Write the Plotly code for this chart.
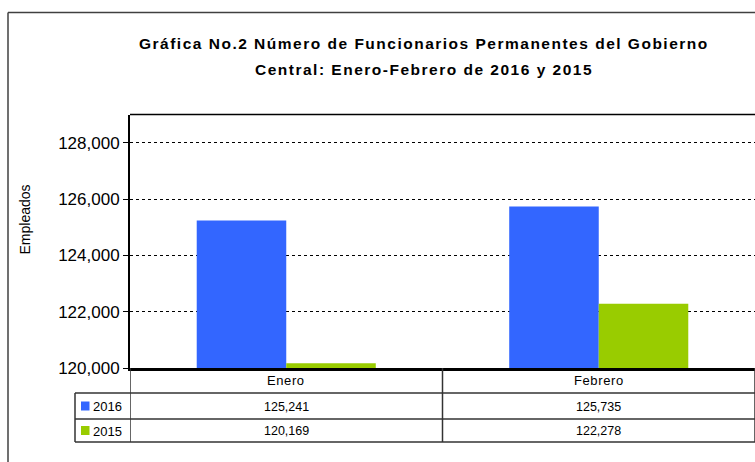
import plotly.graph_objects as go

# ---- data ----
categories = ["Enero", "Febrero"]
series_names = ["2016", "2015"]
values_2016 = [125241, 125735]
values_2015 = [120169, 122278]
series_colors = ["#3366FF", "#99CC00"]
title_lines = ["Gráfica No.2 Número de Funcionarios Permanentes del Gobierno",
               "Central: Enero-Febrero de 2016 y 2015"]
y_title = "Empleados"

W, H = 755, 462
FONT = "Liberation Sans, Arial, sans-serif"


def px(x):
    return x / W


def py(y):
    return 1 - y / H


def spaced(t, s):
    return f'<span style="letter-spacing:{s}px">{t}</span>'


plot_left, plot_top, plot_bottom = 130, 114.5, 368

fig = go.Figure()
for name, vals, col in zip(series_names, [values_2016, values_2015], series_colors):
    fig.add_trace(go.Bar(x=categories, y=vals, name=name, marker=dict(color=col, line=dict(width=0)),
                         showlegend=False, hoverinfo="skip"))

fig.update_layout(
    width=W, height=H, autosize=False, margin=dict(l=0, r=0, t=0, b=0, pad=0, autoexpand=False),
    paper_bgcolor="white", plot_bgcolor="white",
    barmode="group", bargap=0.427, bargroupgap=0,
    font=dict(family=FONT, color="black"),
    xaxis=dict(domain=[px(plot_left), 1], range=[-0.5, 1.5], showticklabels=False, automargin=False,
               showline=True, linecolor="black", linewidth=2.5, ticks="", showgrid=False,
               zeroline=False, fixedrange=True),
    yaxis=dict(domain=[py(plot_bottom), py(plot_top)], range=[120000, 129000], automargin=False,
               tickmode="linear", tick0=120000, dtick=2000, tickformat=",d",
               showline=True, linecolor="black", linewidth=2,
               ticks="outside", ticklen=5, tickcolor="black", tickwidth=1,
               tickfont=dict(size=17, family=FONT, color="black"),
               showgrid=True, gridcolor="black", griddash="dot", gridwidth=1,
               zeroline=False, fixedrange=True),
)

shapes = []
# outer chart frame (left and top edges visible)
shapes.append(dict(type="line", xref="paper", yref="paper", x0=px(8), x1=1.1, y0=py(12.5), y1=py(12.5),
                   line=dict(color="#404040", width=1.5)))
shapes.append(dict(type="line", xref="paper", yref="paper", x0=px(8), x1=px(8), y0=py(12.5), y1=-0.1,
                   line=dict(color="#404040", width=1.5)))
# plot area top border
shapes.append(dict(type="line", xref="paper", yref="paper", x0=px(plot_left), x1=1.1,
                   y0=py(plot_top), y1=py(plot_top), line=dict(color="black", width=1.5)))

# data table
row_edges = [368, 393, 419, 442]
legend_left = 75
tcol = "#333333"
for yy in row_edges[1:]:
    shapes.append(dict(type="line", xref="paper", yref="paper", x0=px(legend_left), x1=1.1,
                       y0=py(yy), y1=py(yy), line=dict(color=tcol, width=1.5)))
shapes.append(dict(type="line", xref="paper", yref="paper", x0=px(legend_left), x1=px(legend_left),
                   y0=py(row_edges[1]), y1=py(row_edges[-1]), line=dict(color=tcol, width=1.5)))
for i in range(len(categories) + 1):
    shapes.append(dict(type="line", xref="x", yref="paper", x0=i - 0.5, x1=i - 0.5,
                       y0=py(row_edges[0]), y1=py(row_edges[-1]), line=dict(color=tcol, width=1.5)))

annotations = []
# title
for k, (line, yy) in enumerate(zip(title_lines, [43, 69])):
    annotations.append(dict(text="<b>" + spaced(line, 1.5) + "</b>", xref="paper", yref="paper",
                            x=px(424), y=py(yy), xanchor="center", yanchor="middle", showarrow=False,
                            font=dict(size=15.5, family=FONT, color="black")))
# y axis title
annotations.append(dict(text=y_title, xref="paper", yref="paper", x=px(24.5), y=py(220), textangle=-90,
                        xanchor="center", yanchor="middle", showarrow=False,
                        font=dict(size=14, family=FONT, color="black")))
# category header row
for i, c in enumerate(categories):
    annotations.append(dict(text=spaced(c, 0.6), xref="x", yref="paper", x=i, y=py(380.5),
                            xanchor="center", yanchor="middle", showarrow=False,
                            font=dict(size=13, family=FONT, color="black")))
# series rows
for r, (name, vals, col) in enumerate(zip(series_names, [values_2016, values_2015], series_colors)):
    yc = (row_edges[r + 1] + row_edges[r + 2]) / 2
    shapes.append(dict(type="rect", xref="paper", yref="paper", x0=px(81), x1=px(89.5),
                       y0=py(yc - 4.5), y1=py(yc + 4.5), fillcolor=col, line=dict(width=0)))
    annotations.append(dict(text=name, xref="paper", yref="paper", x=px(91), y=py(yc + 0.5),
                            xanchor="left", yanchor="middle", showarrow=False,
                            font=dict(size=13, family=FONT, color="black")))
    for i, v in enumerate(vals):
        annotations.append(dict(text=f"{v:,}", xref="x", yref="paper", x=i, y=py(yc + 0.5),
                                xanchor="center", yanchor="middle", showarrow=False,
                                font=dict(size=12.5, family=FONT, color="black")))

fig.update_layout(shapes=shapes, annotations=annotations, hovermode=False)
fig.write_html(
    "out.html",
    config={"displayModeBar": False, "responsive": False, "staticPlot": True},
    post_script="document.documentElement.style.margin='0px';document.body.style.margin='0px';"
                "document.documentElement.style.overflow='hidden';document.body.style.overflow='hidden';",
)
